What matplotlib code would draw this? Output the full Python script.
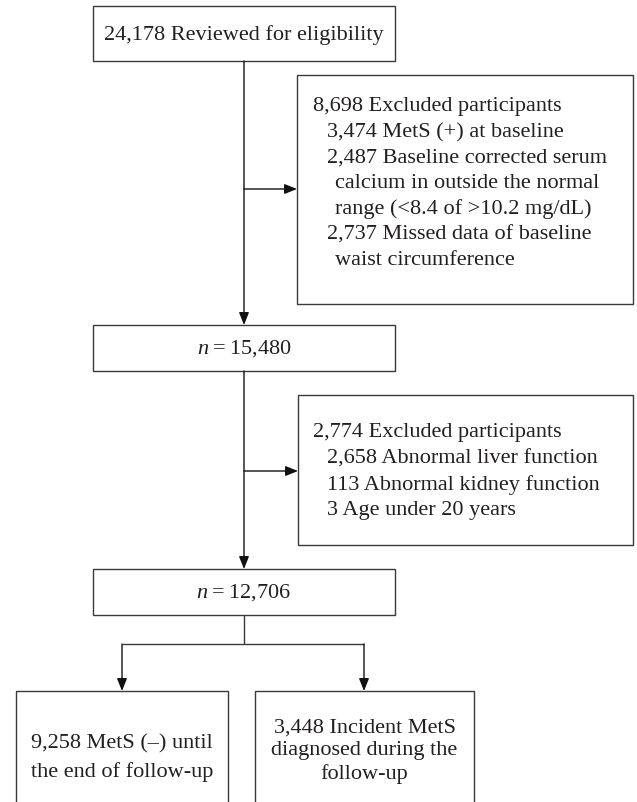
import matplotlib.pyplot as plt
from matplotlib.patches import Rectangle

plt.rcParams['font.family'] = ['Liberation Serif', 'DejaVu Serif']
plt.rcParams['mathtext.fontset'] = 'custom'
plt.rcParams['mathtext.rm'] = 'Liberation Serif'
plt.rcParams['mathtext.it'] = 'Liberation Serif:italic'

# --- flowchart texts ---
title_text = '24,178 Reviewed for eligibility'
n_first = '15,480'
n_second = '12,706'
excl1_lines = [
    (0, '8,698 Excluded participants'),
    (1, '3,474 MetS (+) at baseline'),
    (1, '2,487 Baseline corrected serum'),
    (2, 'calcium in outside the normal'),
    (2, 'range (<8.4 of >10.2 mg/dL)'),
    (1, '2,737 Missed data of baseline'),
    (2, 'waist circumference'),
]
excl2_lines = [
    (0, '2,774 Excluded participants'),
    (1, '2,658 Abnormal liver function'),
    (1, '113 Abnormal kidney function'),
    (1, '3 Age under 20 years'),
]
left_outcome = ['9,258 MetS (\u2013) until', 'the end of follow-up']
right_outcome = ['3,448 Incident MetS', 'diagnosed during the', 'follow-up']

fs = 16
tc = '#231f20'
lc = '#3a3a3a'

fig = plt.figure(figsize=(6.37, 8.03), dpi=100)
ax = fig.add_axes([0, 0, 1, 1])
ax.set_xlim(0, 637)
ax.set_ylim(803, 0)
ax.axis('off')


def box(x0, y0, x1, y1):
    ax.add_patch(Rectangle((x0, y0), x1 - x0, y1 - y0, fill=False,
                           edgecolor=lc, lw=1.0))


def arrow(x0, y0, x1, y1):
    ax.annotate('', xy=(x1, y1), xytext=(x0, y0),
                arrowprops=dict(arrowstyle='-|>,head_length=0.75,head_width=0.3',
                                color='#111111', lw=1.0, shrinkA=0, shrinkB=0,
                                mutation_scale=10))


def line(xs, ys):
    ax.plot(xs, ys, color=lc, lw=1.0, solid_capstyle='butt')


cx = 244

# top box
box(93, 7, 395, 62)
ax.text(cx, 35, title_text, ha='center', va='center', fontsize=fs, color=tc)

# first exclusion
arrow(cx, 62, cx, 326)
arrow(cx, 190, 297, 190)
box(297, 76, 633, 305)
indents = [313, 327, 335]
for i, (lvl, t) in enumerate(excl1_lines):
    ax.text(indents[lvl], 107 + i * 25.6, t, ha='left', va='center',
            fontsize=fs, color=tc)

# n = 15,480
box(93, 326, 395, 372)
ax.text(cx, 349, r'$n$' + '\u2009=\u2009' + n_first, ha='center', va='center',
        fontsize=fs, color=tc)

# second exclusion
arrow(cx, 372, cx, 570)
arrow(cx, 472, 298, 472)
box(298, 396, 633, 546)
for i, (lvl, t) in enumerate(excl2_lines):
    ax.text(indents[lvl], 433 + i * 26, t, ha='left', va='center',
            fontsize=fs, color=tc)

# n = 12,706
box(93, 570, 395, 616)
ax.text(cx, 593, r'$n$' + '\u2009=\u2009' + n_second, ha='center', va='center',
        fontsize=fs, color=tc)

# split
line([cx, cx], [616, 645])
line([122, 364], [645, 645])
arrow(122, 645, 122, 692)
arrow(364, 645, 364, 692)

box(16, 692, 228, 830)
box(255, 692, 474, 830)
for i, t in enumerate(left_outcome):
    ax.text(122, 744 + i * 28, t, ha='center', va='center', fontsize=fs, color=tc)
for i, t in enumerate(right_outcome):
    ax.text(364.5, 728 + i * 23, t, ha='center', va='center', fontsize=fs, color=tc)

fig.savefig('out.png', dpi=100)
